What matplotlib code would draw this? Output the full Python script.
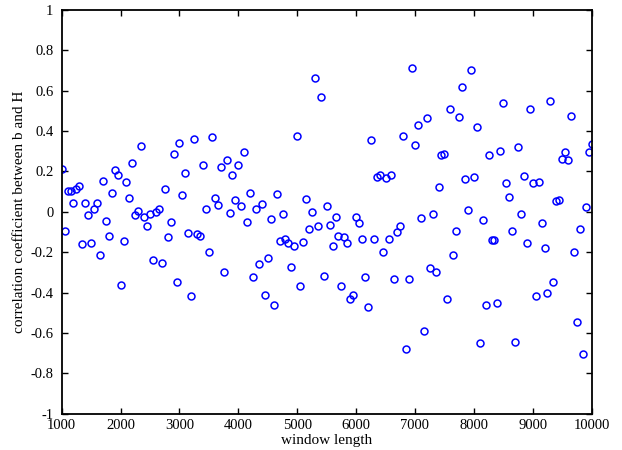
import matplotlib
matplotlib.use("Agg")
import matplotlib.pyplot as plt
from matplotlib.ticker import FuncFormatter

# window lengths: 1000 to 10000 in steps of 50 (181 windows)
window_length = list(range(1000, 10001, 50))

corr_bH = [
    0.213, -0.094, 0.102, 0.105, 0.041, 0.113, 0.126, -0.158, 0.044, -0.016,
    -0.156, 0.013, 0.041, -0.212, 0.153, -0.048, -0.120, 0.095, 0.205, 0.181,
    -0.361, -0.144, 0.148, 0.067, 0.240, -0.016, 0.002, 0.327, -0.025, -0.072,
    -0.010, -0.240, -0.003, 0.015, -0.255, 0.113, -0.126, -0.051, 0.287, -0.346,
    0.342, 0.084, 0.190, -0.105, -0.415, 0.358, -0.110, -0.118, 0.233, 0.013,
    -0.197, 0.369, 0.067, 0.034, 0.222, -0.296, 0.254, -0.005, 0.184, 0.059,
    0.233, 0.031, 0.296, -0.051, 0.095, -0.325, 0.016, -0.258, 0.038, -0.411,
    -0.228, -0.036, -0.461, 0.090, -0.144, -0.011, -0.133, -0.156, -0.273, -0.171,
    0.373, -0.368, -0.148, 0.062, -0.087, -0.002, 0.662, -0.069, 0.568, -0.319,
    0.031, -0.066, -0.169, -0.026, -0.122, -0.365, -0.125, -0.154, -0.430, -0.414,
    -0.028, -0.057, -0.133, -0.325, -0.471, 0.353, -0.133, 0.172, 0.182, -0.197,
    0.166, -0.136, 0.181, -0.333, -0.102, -0.072, 0.373, -0.681, -0.333, 0.711,
    0.330, 0.427, -0.030, -0.589, 0.465, -0.276, -0.010, -0.297, 0.123, 0.282,
    0.287, -0.432, 0.507, -0.212, -0.094, 0.468, 0.619, 0.163, 0.007, 0.704,
    0.172, 0.422, -0.650, -0.041, -0.461, 0.279, -0.141, -0.140, -0.450, 0.300,
    0.540, 0.144, 0.071, -0.094, -0.645, 0.319, -0.011, 0.177, -0.154, 0.507,
    0.144, -0.417, 0.148, -0.056, -0.179, -0.404, 0.547, -0.350, 0.053, 0.059,
    0.263, 0.296, 0.258, 0.473, -0.200, -0.547, -0.084, -0.703, 0.026, 0.297,
    0.333,
]

x_ticks = [1000, 2000, 3000, 4000, 5000, 6000, 7000, 8000, 9000, 10000]
y_ticks = [-1, -0.8, -0.6, -0.4, -0.2, 0, 0.2, 0.4, 0.6, 0.8, 1]

plt.rcParams.update({
    "font.family": ["Liberation Serif", "DejaVu Serif"],
    "axes.unicode_minus": False,
})

fig = plt.figure(figsize=(6.22, 4.5), dpi=100)
ax = fig.add_axes([0.0992, 0.0804, 0.852, 0.898])

ax.plot(window_length, corr_bH, "o", markersize=5, markerfacecolor="none",
        markeredgecolor="#0000ff", markeredgewidth=1.1, linestyle="none")

ax.set_xlim(1000, 10000)
ax.set_ylim(-1, 1)
ax.set_xticks(x_ticks)
ax.set_yticks(y_ticks)
ax.yaxis.set_major_formatter(FuncFormatter(lambda v, _: f"{v:g}"))
ax.tick_params(direction="in", length=4, width=1, top=True, right=True,
               labelsize=10.5, colors="black")
ax.tick_params(axis="y", pad=6)
for sp in ax.spines.values():
    sp.set_linewidth(1.3)

ax.set_xlabel("window length", fontsize=11, labelpad=2)
ax.set_ylabel("correlation coefficient between b and H", fontsize=11, labelpad=3)

fig.savefig("out.png", dpi=100)
